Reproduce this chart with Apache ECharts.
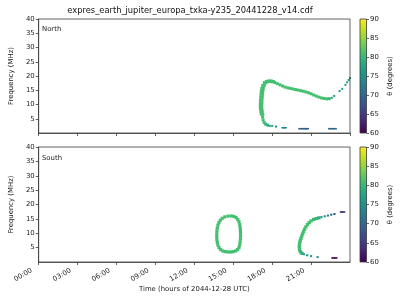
<!DOCTYPE html>
<html><head><meta charset="utf-8">
<script src="https://cdn.jsdelivr.net/npm/echarts@6/dist/echarts.min.js"></script>
<style>html,body{margin:0;padding:0;background:#fff}#c{width:400px;height:300px}</style>
</head><body><div id="c"></div><script>
// ---------- data ----------
const chartTitle = 'expres_earth_jupiter_europa_txka-y235_20441228_v14.cdf';
const panelNames = ['North', 'South'];
const xAxisTitle = 'Time (hours of 2044-12-28 UTC)';
const yAxisTitle = 'Frequency (MHz)';
const cbTitle = '\u03b8 (degrees)';
const timeRange = [0, 24];      // hours
const timeStep = 3;
const freqRange = [0, 40];      // MHz
const freqStep = 5;
const thetaRange = [60, 90];    // degrees
const thetaStep = 5;

// North hemisphere: [hour, MHz, theta]
const northArc = [
  [17.45,17.6,81],[17.6,18.0,81],[17.75,18.2,81],[17.9,18.2,81],[18.05,18.0,81],
  [17.33,16.6,81],[17.26,15.6,81],[17.22,14.6,81],[17.2,13.6,81],[17.18,12.6,81],
  [17.16,11.6,81],[17.15,10.6,81],[17.14,9.6,81],[17.15,8.6,81],[17.18,7.6,81],
  [17.22,6.6,81]
];
const northCurve = [
  [17.26,5.6,81],[17.3,4.6,81],[17.38,3.7,81],[17.5,3.1,80],[17.65,2.75,79],
  [18.2,17.7,81],[18.4,17.3,81],[18.6,16.9,81],[18.8,16.5,81],[19.0,16.1,81],
  [19.2,15.85,81],[19.4,15.65,81],[19.6,15.45,81],[19.8,15.25,81],[20.0,15.05,81],
  [20.2,14.85,81],[20.4,14.65,81],[20.6,14.4,81],[20.8,14.1,81],[21.0,13.75,81],
  [21.2,13.35,81],[21.4,12.95,81],[21.6,12.6,81],[21.8,12.3,81],[22.0,12.1,81],
  [22.2,12.0,81],[22.4,12.05,80]
];
const northDots = [
  [17.82,2.5,78],[18.0,2.5,77],[18.3,2.25,76],
  [22.6,12.35,77],[22.78,13.0,76],[23.2,14.7,76],[23.4,15.5,76],
  [23.65,16.9,76],[23.78,17.8,76],[23.9,18.6,76],[24.0,19.3,76]
];
const northDashes = [
  [18.85,1.85,74],[19.0,1.85,74],
  [20.15,1.5,69],[20.35,1.5,69],[20.55,1.5,69],[20.7,1.5,69],
  [22.45,1.5,70],[22.65,1.5,70],[22.85,1.5,70]
];

// South hemisphere: [hour, MHz, theta]
const southOval = [
  [14.85,16.0,81],[15.05,15.85,81],[15.22,15.45,81],[15.35,14.8,81],[15.44,14.0,81],
  [15.5,13.0,81],[15.53,12.0,81],[15.55,11.0,81],[15.56,10.0,81],[15.56,9.0,81],
  [15.55,8.0,81],[15.53,7.0,81],[15.5,6.0,81],[15.44,5.0,81],[15.33,4.3,81],
  [15.18,3.85,81],[15.0,3.6,81],[14.8,3.5,81],[14.6,3.5,81],[14.4,3.6,81],
  [14.2,3.8,81],[14.03,4.3,81],[13.9,5.0,81],[13.82,5.9,81],[13.77,6.8,81],
  [13.74,7.8,81],[13.73,8.8,81],[13.73,9.8,81],[13.74,10.8,81],[13.77,11.8,81],
  [13.82,12.8,81],[13.9,13.7,81],[14.0,14.5,81],[14.15,15.2,81],[14.35,15.7,81],
  [14.6,15.95,81]
];
const southC = [
  [21.6,15.35,79],[21.4,15.1,80],[21.2,14.8,80],[21.0,14.3,81],[20.85,13.7,81],
  [20.72,13.0,81],[20.6,12.2,81],[20.5,11.4,81],[20.42,10.6,81],[20.35,9.8,81],
  [20.28,9.0,81],[20.22,8.2,81],[20.16,7.4,81],[20.12,6.6,81],[20.1,5.8,81],
  [20.1,5.0,81],[20.12,4.2,81],[20.18,3.5,80],[20.3,3.0,79]
];
const southDots = [
  [21.8,15.6,76],[22.05,15.9,75],[22.3,16.15,73],[22.55,16.45,71],[22.8,16.7,69],
  [20.45,2.7,77],[20.7,2.35,76],[21.0,2.05,76],[21.5,1.7,75]
];
const southDashes = [
  [23.35,17.4,64],[23.5,17.4,64],
  [22.7,1.4,60],[22.9,1.4,60]
];

// ---------- styles ----------
const viridis = ['#440154','#482475','#414487','#355f8d','#2a788e','#21918c','#22a884','#44bf70','#7ad151','#bddf26','#fde725'];
const FONT = 'DejaVu Sans';
const FS = 6.9;
const AX = '#3a3a3a';
const plotL = 32, plotW = 318;
const panelTops = [19, 147];
const panelHs = [114, 115];
const cbL = 360, cbW = 6.5;

function hhmm(v){ return (v < 10 ? '0' : '') + v + ':00'; }

const grids = [], xAxes = [], yAxes = [], series = [];
for (let p = 0; p < 2; p++) {
  grids.push({left: plotL, top: panelTops[p], width: plotW, height: panelHs[p],
    show: true, borderColor: AX, borderWidth: 0.8, backgroundColor: 'transparent', z: 5});
  xAxes.push({type: 'value', gridIndex: p, min: timeRange[0], max: timeRange[1], interval: timeStep,
    axisLine: {show: true, lineStyle: {color: AX, width: 0.8}},
    axisTick: {show: true, length: 3, lineStyle: {color: AX, width: 0.8}},
    splitLine: {show: false},
    axisLabel: {show: p === 1, rotate: 30, fontSize: FS, fontFamily: FONT, color: '#222', margin: 4,
      align: 'right', verticalAlign: 'middle', padding: [0, 8, 0, 0],
      showMaxLabel: false, formatter: v => v >= timeRange[1] ? '' : hhmm(v)},
    name: p === 1 ? xAxisTitle : '', nameLocation: 'middle', nameGap: 21.5,
    nameTextStyle: {fontSize: FS, fontFamily: FONT, color: '#222'}});
  yAxes.push({type: 'value', gridIndex: p, min: freqRange[0], max: freqRange[1], interval: freqStep,
    axisLine: {show: true, lineStyle: {color: AX, width: 0.8}},
    axisTick: {show: true, length: 3, lineStyle: {color: AX, width: 0.8}},
    splitLine: {show: false},
    axisLabel: {fontSize: FS, fontFamily: FONT, color: '#222', margin: 4, showMinLabel: false},
    name: yAxisTitle, nameLocation: 'middle', nameGap: 17, nameRotate: 90,
    nameTextStyle: {fontSize: FS, fontFamily: FONT, color: '#222'}});
}
// colorbars
for (let p = 0; p < 2; p++) {
  grids.push({left: cbL, top: panelTops[p], width: cbW, height: panelHs[p],
    show: true, borderColor: AX, borderWidth: 0.8, backgroundColor: 'transparent', z: 5});
  xAxes.push({type: 'category', gridIndex: 2 + p, data: ['cb'], show: false});
  yAxes.push({type: 'value', gridIndex: 2 + p, min: thetaRange[0], max: thetaRange[1], interval: thetaStep,
    position: 'right',
    axisLine: {show: false}, splitLine: {show: false},
    axisTick: {show: true, length: 2.5, lineStyle: {color: AX, width: 0.8}},
    axisLabel: {fontSize: FS, fontFamily: FONT, color: '#222', margin: 3.5},
    name: cbTitle, nameLocation: 'middle', nameGap: 20, nameRotate: 90,
    nameTextStyle: {fontSize: FS, fontFamily: FONT, color: '#222'}});
}

function sc(data, p, size) {
  return {type: 'scatter', xAxisIndex: p, yAxisIndex: p, data: data, symbol: 'rect',
    symbolSize: size, itemStyle: {opacity: 1}, emphasis: {disabled: true}, silent: true};
}
series.push(sc(northArc, 0, [4.5, 3.2]));
series.push(sc(northCurve, 0, [3, 3]));
series.push(sc(northDots, 0, [2, 2]));
series.push(sc(northDashes, 0, [3.6, 1.6]));
series.push(sc(southOval, 1, [3.2, 3.2]));
series.push(sc(southC, 1, [3.4, 3.2]));
series.push(sc(southDots, 1, [2.2, 2]));
series.push(sc(southDashes, 1, [3.6, 1.6]));
const nScatter = series.length;

const stops = viridis.map((c, i) => ({offset: i / (viridis.length - 1), color: c}));
for (let p = 0; p < 2; p++) {
  series.push({type: 'bar', xAxisIndex: 2 + p, yAxisIndex: 2 + p, stack: 'cb' + p,
    data: [thetaRange[0]], barWidth: '100%', itemStyle: {color: 'rgba(0,0,0,0)'}, silent: true});
  series.push({type: 'bar', xAxisIndex: 2 + p, yAxisIndex: 2 + p, stack: 'cb' + p,
    data: [thetaRange[1] - thetaRange[0]], barWidth: '100%', silent: true,
    itemStyle: {color: new echarts.graphic.LinearGradient(0, 1, 0, 0, stops)}});
}

const chart = echarts.init(document.getElementById('c'), null, {renderer: 'canvas'});
chart.setOption({
  animation: false,
  backgroundColor: '#fff',
  textStyle: {fontFamily: FONT},
  title: [
    {text: panelNames[0], left: plotL + 10, top: panelTops[0] + 6.5, padding: 0,
      textStyle: {fontSize: FS, fontFamily: FONT, fontWeight: 'normal', color: '#222'}},
    {text: panelNames[1], left: plotL + 10, top: panelTops[1] + 7.5, padding: 0,
      textStyle: {fontSize: FS, fontFamily: FONT, fontWeight: 'normal', color: '#222'}}
  ],
  graphic: [{type: 'text', x: plotL + plotW / 2 - 1, y: 11,
    style: {text: chartTitle, fontSize: 8.3, fontFamily: FONT, fill: '#111',
      textAlign: 'center', textVerticalAlign: 'middle'}}],
  visualMap: [{type: 'continuous', show: false, dimension: 2, min: thetaRange[0], max: thetaRange[1],
    seriesIndex: Array.from({length: nScatter}, (_, i) => i), inRange: {color: viridis}}],
  grid: grids, xAxis: xAxes, yAxis: yAxes, series: series
});
</script></body></html>
